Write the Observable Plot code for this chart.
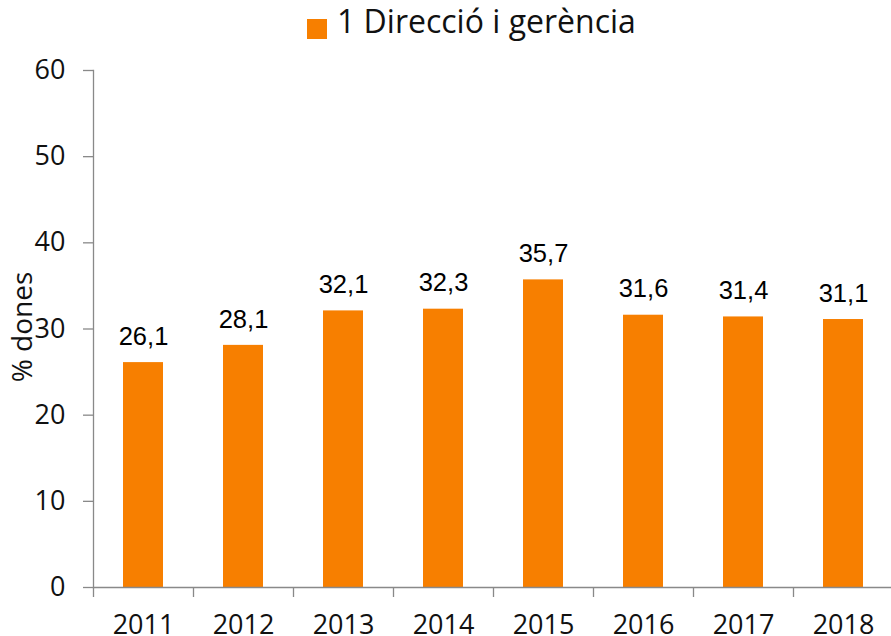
<!DOCTYPE html>
<html>
<head>
<meta charset="utf-8">
<script src="https://cdn.jsdelivr.net/npm/d3@7"></script>
<script src="https://cdn.jsdelivr.net/npm/@observablehq/plot@0.6"></script>
<style>
  html, body { margin: 0; padding: 0; background: #fff; }
  #wrap { width: 891px; height: 636px; overflow: hidden; position: relative; }
  #legend { position: relative; width: 891px; height: 55px; }
  #legend .sw { position: absolute; left: 307px; top: 19px; width: 20px; height: 20px; }
  #legend .lb { position: absolute; left: 337px; top: 5px; font-family: "Open Sans", sans-serif; font-size: 32px; line-height: 1; color: #111; white-space: nowrap; }
</style>
</head>
<body>
<div id="wrap">
  <div id="legend"><div class="sw"></div><div class="lb"></div></div>
  <div id="chart"></div>
</div>
<script>
const seriesName = "1 Direcció i gerència";
const years = ["2011", "2012", "2013", "2014", "2015", "2016", "2017", "2018"];
const values = [26.1, 28.1, 32.1, 32.3, 35.7, 31.6, 31.4, 31.1];
const yTicks = [0, 10, 20, 30, 40, 50, 60];
const yLabel = "% dones";

const barColor = "#f77f00";
const axisColor = "#898989";

document.querySelector("#legend .sw").style.background = barColor;
document.querySelector("#legend .lb").textContent = seriesName;

const data = years.map((y, i) => ({year: y, value: values[i]}));
const fmt = v => v.toFixed(1).replace(".", ",");

const chart = Plot.plot({
  width: 891,
  height: 581,
  marginTop: 15,
  marginBottom: 49,
  marginLeft: 93,
  marginRight: 0,
  style: {fontFamily: "'Open Sans', sans-serif", fontSize: "27px", color: "#111", background: "#fff", overflow: "visible"},
  x: {type: "band", domain: years, range: [93, 893], paddingInner: 0.6, paddingOuter: 0.3, align: 0.5, label: null},
  y: {domain: [0, 60], label: null},
  marks: [
    Plot.barY(data, {x: "year", y: "value", fill: barColor}),
    Plot.frame({anchor: "left", stroke: axisColor, strokeWidth: 1.3}),
    Plot.ruleY([0], {stroke: axisColor, strokeWidth: 1.3}),
    Plot.ruleX(years, {x: d => d, y1: 0, y2: 0, dx: -50, insetBottom: -10, stroke: axisColor, strokeWidth: 1.3}),
    Plot.axisY({ticks: yTicks, tickSize: 10, tickPadding: 18, stroke: axisColor, strokeWidth: 1.3, fill: "#111", fontSize: 27, label: null}),
    Plot.axisX({tickSize: 0, tickPadding: 27, fill: "#111", fontSize: 27, label: null}),
    Plot.text(data, {x: "year", y: "value", text: d => fmt(d.value), dy: -26, lineAnchor: "middle", textAnchor: "middle", fontFamily: "'Liberation Sans', Arial, sans-serif", fontSize: 25.5, fill: "#000"}),
    Plot.text([yLabel], {frameAnchor: "left", rotate: -90, dx: -70, dy: -2, fontSize: 28, fill: "#111", textAnchor: "middle", lineAnchor: "middle"})
  ]
});
document.getElementById("chart").appendChild(chart);
</script>
</body>
</html>
